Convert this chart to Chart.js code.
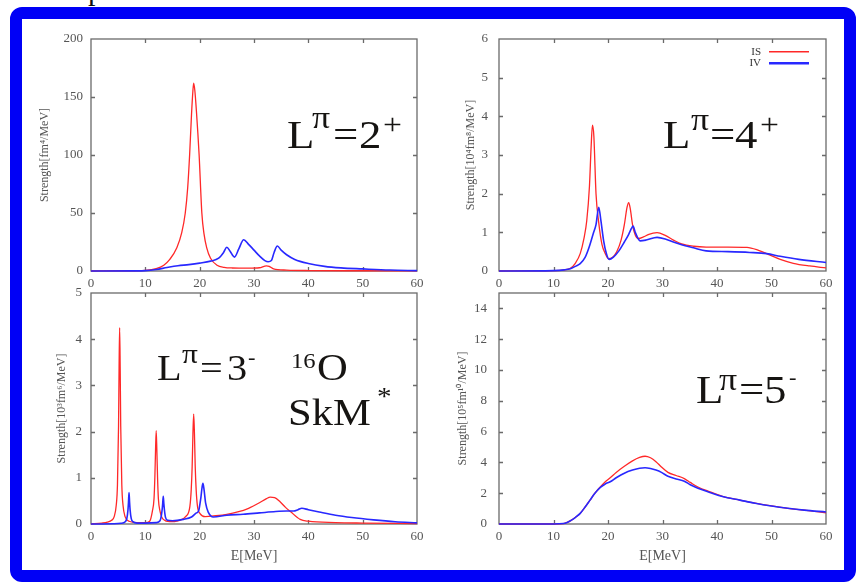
<!DOCTYPE html>
<html>
<head>
<meta charset="utf-8">
<script src="https://cdn.jsdelivr.net/npm/chart.js@4/dist/chart.umd.min.js"></script>
<style>
  html, body { margin: 0; padding: 0; background: #fff; }
  body { width: 856px; height: 584px; position: relative; overflow: hidden; }
  #frame {
    position: absolute; left: 10px; top: 7px; width: 846px; height: 575px;
    box-sizing: border-box; border: 12px solid #0000f6; border-radius: 12px; background: #fff;
  }
  #cut { position: absolute; left: 88px; top: 0; width: 20px; height: 8px; overflow: hidden; }
  #cut span { position: absolute; left: 0; top: -27px; font: 30px "Liberation Serif", serif; line-height: 34px; color: #111; }
  canvas { position: absolute; }
</style>
</head>
<body>
<div id="cut"><span>p</span></div>
<div id="frame"></div>
<canvas id="quad2" width="399" height="262" style="left:30px;top:29px"></canvas>
<canvas id="hex4" width="400" height="262" style="left:438px;top:29px"></canvas>
<canvas id="oct3" width="399" height="286" style="left:30px;top:283px"></canvas>
<canvas id="dec5" width="400" height="286" style="left:438px;top:283px"></canvas>
<script>
// ---- strength functions of 16O (SkM*), energies in MeV ----

// L = 2+  [fm^4/MeV]
const e2IS = [0, 6, 10, 12, 13.4, 14.5, 15.8, 16.7, 17.35, 17.8, 18.15, 18.5, 18.75, 18.9, 19.1, 19.4, 19.9, 20.4, 20.8, 21.3, 22, 23.2, 24.5, 26, 29, 31, 32.3, 32.8, 33.6, 36, 40, 50, 60];
const s2IS = [0, 0.2, 0.6, 2, 5, 10, 20, 33, 50, 72, 100, 135, 155, 162, 156, 138, 100, 50, 32, 20, 11, 5, 3.2, 2.6, 2.4, 2.8, 4.5, 4, 1.8, 0.8, 0.4, 0.2, 0.1];
const e2IV = [0, 8, 10, 12, 14, 16, 18, 20, 22, 23.5, 24.4, 25, 25.6, 26.4, 27.2, 28.1, 29, 30, 31, 32, 32.6, 33.2, 33.7, 34.3, 35, 36, 37.5, 40, 43, 46, 50, 55, 60];
const s2IV = [0, 0.1, 0.3, 1.3, 3, 4.5, 5.5, 6.8, 8.5, 11, 16, 20.5, 17, 12, 19, 27, 23, 18, 13, 9, 8, 9, 16, 21.5, 18, 14, 10, 6.5, 4, 2.7, 1.8, 0.8, 0.3];

// L = 4+  [10^4 fm^8/MeV]
const e4IS = [0, 8, 10, 12, 13.1, 14, 14.9, 15.6, 16.1, 16.6, 16.9, 17.15, 17.4, 17.8, 18.3, 18.9, 19.5, 20.1, 20.8, 21.6, 22.4, 23, 23.5, 23.8, 24.1, 24.5, 25, 25.6, 26.5, 27.5, 29, 30.5, 32, 33.5, 35.7, 38, 42, 45.5, 47.5, 49.1, 51.6, 54, 57, 60];
const s4IS = [0, 0.005, 0.01, 0.03, 0.07, 0.2, 0.45, 0.85, 1.3, 2.2, 3.2, 3.77, 3.5, 2.0, 1.25, 0.68, 0.45, 0.32, 0.35, 0.5, 0.8, 1.2, 1.65, 1.77, 1.6, 1.2, 0.93, 0.84, 0.88, 0.95, 0.99, 0.92, 0.8, 0.7, 0.64, 0.62, 0.62, 0.61, 0.54, 0.45, 0.3, 0.2, 0.13, 0.08];
const e4IV = [0, 10, 12, 13.1, 14, 14.9, 15.8, 16.5, 17.3, 17.8, 18.3, 18.7, 19.2, 19.7, 20.2, 21, 22, 23, 23.8, 24.3, 24.6, 25, 25.9, 27, 29, 30.5, 32, 33.5, 35.7, 38, 42, 46, 49.1, 51.6, 55, 60];
const s4IV = [0, 0.01, 0.03, 0.06, 0.12, 0.19, 0.35, 0.6, 0.97, 1.2, 1.65, 1.3, 0.78, 0.45, 0.3, 0.36, 0.52, 0.75, 0.95, 1.1, 1.16, 1.0, 0.78, 0.8, 0.87, 0.83, 0.75, 0.68, 0.6, 0.52, 0.5, 0.48, 0.45, 0.38, 0.3, 0.22];

// L = 3-  [10^3 fm^6/MeV]
const e3IS = [0, 2, 3, 3.8, 4.27, 4.64, 4.87, 5.07, 5.17, 5.27, 5.37, 5.47, 5.67, 5.9, 6.27, 7, 8.5, 10, 10.8, 11.3, 11.6, 11.75, 11.88, 12.0, 12.12, 12.25, 12.4, 12.7, 13.3, 14.5, 16, 17.5, 18.2, 18.45, 18.62, 18.76, 18.9, 19.04, 19.18, 19.35, 19.6, 20.1, 21, 23, 25, 27, 29, 31, 32.3, 33, 33.8, 34.8, 35.8, 36.7, 38.5, 40, 45, 50, 60];
const s3IS = [0, 0.02, 0.04, 0.08, 0.16, 0.4, 0.85, 2.12, 3.4, 4.25, 3.4, 2.12, 0.85, 0.4, 0.16, 0.06, 0.03, 0.03, 0.06, 0.28, 0.55, 1.0, 1.6, 2.02, 1.6, 1.0, 0.55, 0.28, 0.1, 0.05, 0.07, 0.17, 0.38, 0.75, 1.25, 1.95, 2.38, 1.95, 1.25, 0.75, 0.38, 0.22, 0.16, 0.18, 0.21, 0.26, 0.34, 0.46, 0.55, 0.58, 0.57, 0.48, 0.36, 0.27, 0.1, 0.06, 0.03, 0.02, 0.01];
const e3IV = [0, 4, 5.5, 6.3, 6.6, 6.8, 6.9, 7.0, 7.1, 7.2, 7.4, 7.7, 8.5, 10, 12, 12.7, 12.95, 13.1, 13.2, 13.3, 13.4, 13.5, 13.7, 14.1, 15, 17, 18.5, 19.4, 19.8, 20.2, 20.45, 20.6, 20.8, 21.1, 21.6, 22.5, 25, 28, 31, 34, 36, 37.3, 38.1, 38.8, 40, 42, 45, 48, 52, 56, 60];
const s3IV = [0, 0.005, 0.015, 0.05, 0.12, 0.3, 0.47, 0.68, 0.47, 0.3, 0.12, 0.05, 0.02, 0.02, 0.03, 0.07, 0.18, 0.32, 0.45, 0.6, 0.45, 0.32, 0.15, 0.08, 0.07, 0.1, 0.15, 0.24, 0.28, 0.55, 0.8, 0.88, 0.75, 0.45, 0.25, 0.15, 0.19, 0.21, 0.24, 0.27, 0.28, 0.28, 0.31, 0.34, 0.31, 0.26, 0.19, 0.14, 0.09, 0.05, 0.025];

// L = 5-  [10^5 fm^10/MeV]
const e5 = [0, 10, 11.8, 12.5, 13.3, 14.1, 14.9, 15.8, 16.7, 17.6, 18.6, 19.5, 20.4, 21.5, 23, 24.5, 25.8, 26.8, 27.8, 28.8, 29.8, 31, 32.5, 34, 35.1, 36.5, 38.7, 41, 44.2, 47, 50, 53, 56, 60];
const s5IS = [0, 0, 0.03, 0.1, 0.25, 0.45, 0.69, 1.1, 1.55, 2.0, 2.41, 2.75, 3.0, 3.35, 3.75, 4.1, 4.32, 4.4, 4.3, 4.05, 3.7, 3.35, 3.15, 2.95, 2.7, 2.4, 2.09, 1.8, 1.55, 1.35, 1.17, 1.02, 0.9, 0.72];
const s5IV = [0, 0, 0.03, 0.1, 0.25, 0.45, 0.69, 1.1, 1.55, 2.0, 2.38, 2.6, 2.74, 3.0, 3.3, 3.5, 3.62, 3.65, 3.6, 3.5, 3.35, 3.1, 2.92, 2.78, 2.55, 2.32, 2.05, 1.78, 1.55, 1.35, 1.17, 1.02, 0.9, 0.78];

const energyTicks = [0, 10, 20, 30, 40, 50, 60];

const SERIF = '"Liberation Serif", "Times New Roman", serif';
const RED = 'rgb(255,40,40)';
const BLUE = 'rgb(40,40,255)';

Chart.defaults.font.family = SERIF;

const pairUp = (xs, ys) => xs.map((x, i) => ({ x, y: ys[i] }));

// box around the plot area with inward tick marks on all four sides
const frameTicks = {
  id: 'frameTicks',
  beforeDatasetsDraw(chart) {
    const { ctx, chartArea: a, scales: { x, y } } = chart;
    ctx.save();
    ctx.strokeStyle = '#6a6a6a';
    ctx.lineWidth = 1.3;
    ctx.strokeRect(a.left, a.top, a.width, a.height);
    const len = 4;
    ctx.beginPath();
    x.ticks.forEach(t => {
      const px = Math.round(x.getPixelForValue(t.value)) + 0.5;
      if (px <= a.left + 1 || px >= a.right - 1) return;
      ctx.moveTo(px, a.bottom); ctx.lineTo(px, a.bottom - len);
      ctx.moveTo(px, a.top); ctx.lineTo(px, a.top + len);
    });
    y.ticks.forEach(t => {
      const py = Math.round(y.getPixelForValue(t.value)) + 0.5;
      if (py <= a.top + 1 || py >= a.bottom - 1) return;
      ctx.moveTo(a.left, py); ctx.lineTo(a.left + len, py);
      ctx.moveTo(a.right, py); ctx.lineTo(a.right - len, py);
    });
    ctx.stroke();
    ctx.restore();
  }
};

// multipolarity label drawn piece by piece (superscripts raised)
const bigLabel = {
  id: 'bigLabel',
  afterDatasetsDraw(chart, args, opts) {
    const pieces = opts.pieces;
    if (!pieces) return;
    const { ctx, chartArea: a } = chart;
    ctx.save();
    ctx.fillStyle = '#161412';
    ctx.textBaseline = 'alphabetic';
    ctx.textAlign = 'left';
    for (const p of pieces) {
      ctx.font = p.s + 'px ' + SERIF;
      ctx.save();
      ctx.translate(a.left + opts.x + p.dx, a.top + opts.y + p.dy);
      ctx.scale(1.12, 1);
      ctx.fillText(p.t, 0, 0);
      ctx.restore();
    }
    ctx.restore();
  }
};

// small key: label text right-aligned, sample line to its right
const keyLegend = {
  id: 'keyLegend',
  afterDatasetsDraw(chart, args, opts) {
    if (!opts.show) return;
    const { ctx, chartArea: a } = chart;
    ctx.save();
    chart.data.datasets.forEach((ds, i) => {
      const yy = a.top + 12.7 + i * 11.6;
      ctx.font = '11px ' + SERIF;
      ctx.fillStyle = '#333';
      ctx.textAlign = 'right';
      ctx.textBaseline = 'middle';
      ctx.fillText(ds.label, a.right - 65, yy);
      ctx.strokeStyle = ds.borderColor;
      ctx.lineWidth = i ? 2.6 : 1.5;
      ctx.beginPath();
      ctx.moveTo(a.right - 57, yy);
      ctx.lineTo(a.right - 17, yy);
      ctx.stroke();
    });
    ctx.restore();
  }
};

Chart.register(frameTicks, bigLabel, keyLegend);

function panel(id, cfg) {
  const bottomRow = cfg.xTitle;
  new Chart(document.getElementById(id), {
    type: 'line',
    data: {
      datasets: [
        { label: 'IS', data: pairUp(cfg.isE, cfg.isS), borderColor: RED, borderWidth: 1.3, order: 1 },
        { label: 'IV', data: pairUp(cfg.ivE, cfg.ivS), borderColor: BLUE, borderWidth: 1.6, order: 0 }
      ].map(d => Object.assign(d, { pointRadius: 0, cubicInterpolationMode: 'monotone', fill: false, clip: 3 }))
    },
    options: {
      responsive: false,
      animation: false,
      devicePixelRatio: 1,
      layout: { padding: { left: 0, right: 12, top: 10, bottom: 0 } },
      plugins: {
        legend: { display: false },
        tooltip: { enabled: false },
        bigLabel: cfg.label,
        keyLegend: { show: !!cfg.key }
      },
      scales: {
        x: {
          type: 'linear', min: 0, max: 60,
          afterBuildTicks: s => { s.ticks = energyTicks.map(v => ({ value: v })); },
          grid: { display: false, drawTicks: false },
          border: { display: false },
          ticks: { color: '#555', font: { size: 13 }, padding: 5, maxRotation: 0, autoSkip: false },
          title: bottomRow
            ? { display: true, text: cfg.xTitle, color: '#555', font: { size: 14 }, padding: { top: 0, bottom: 4 } }
            : { display: false },
          afterFit: s => { s.height = bottomRow ? 45 : 20; s.paddingLeft = 0; s.paddingRight = 0; }
        },
        y: {
          type: 'linear', min: 0, max: cfg.yMax,
          grid: { display: false, drawTicks: false },
          border: { display: false },
          ticks: { stepSize: cfg.yStep, includeBounds: false, color: '#555', font: { size: 13 }, padding: cfg.yPad, autoSkip: false },
          title: { display: true, text: cfg.yTitle, color: '#555', font: { size: 12 }, padding: { top: cfg.titlePad, bottom: 0 } },
          afterFit: s => { s.width = 61; s.paddingTop = 0; s.paddingBottom = 0; }
        }
      }
    }
  });
}

panel('quad2', {
  isE: e2IS, isS: s2IS, ivE: e2IV, ivS: s2IV,
  yMax: 200, yStep: 50, yPad: 8, titlePad: 8,
  yTitle: 'Strength[fm⁴/MeV]',
  label: { x: 196, y: 109, pieces: [
    { t: 'L', dx: 0, dy: 0, s: 40 }, { t: 'π', dx: 25, dy: -20, s: 32 },
    { t: '=', dx: 46, dy: 0, s: 40 }, { t: '2', dx: 72, dy: 0, s: 40 }, { t: '+', dx: 96, dy: -14, s: 30 } ] }
});

panel('hex4', {
  isE: e4IS, isS: s4IS, ivE: e4IV, ivS: s4IV,
  yMax: 6, yStep: 1, yPad: 11, titlePad: 26, key: true,
  yTitle: 'Strength[10⁴fm⁸/MeV]',
  label: { x: 164, y: 109, pieces: [
    { t: 'L', dx: 0, dy: 0, s: 40 }, { t: 'π', dx: 28, dy: -18, s: 32 },
    { t: '=', dx: 47, dy: 0, s: 40 }, { t: '4', dx: 72, dy: 0, s: 40 }, { t: '+', dx: 97, dy: -14, s: 30 } ] }
});

panel('oct3', {
  isE: e3IS, isS: s3IS, ivE: e3IV, ivS: s3IV,
  yMax: 5, yStep: 1, yPad: 9, titlePad: 25, xTitle: 'E[MeV]',
  yTitle: 'Strength[10³fm⁶/MeV]',
  label: { x: 66, y: 87, pieces: [
    { t: 'L', dx: 0, dy: 0, s: 36 }, { t: 'π', dx: 25, dy: -17, s: 28 },
    { t: '=', dx: 43, dy: 0, s: 36 }, { t: '3', dx: 70, dy: 0, s: 36 }, { t: '-', dx: 91, dy: -16, s: 20 },
    { t: '16', dx: 134, dy: -12, s: 22 }, { t: 'O', dx: 160, dy: 0, s: 38 },
    { t: 'SkM', dx: 131, dy: 45, s: 38 }, { t: '*', dx: 220, dy: 25, s: 26 } ] }
});

panel('dec5', {
  isE: e5, isS: s5IS, ivE: e5, ivS: s5IV,
  yMax: 15, yStep: 2, yPad: 12, titlePad: 18, xTitle: 'E[MeV]',
  yTitle: 'Strength[10⁵fm¹⁰/MeV]',
  label: { x: 197, y: 110, pieces: [
    { t: 'L', dx: 0, dy: 0, s: 40 }, { t: 'π', dx: 23, dy: -13, s: 32 },
    { t: '=', dx: 43, dy: 0, s: 40 }, { t: '5', dx: 68, dy: 0, s: 40 }, { t: '-', dx: 93, dy: -19, s: 20 } ] }
});
</script>
</body>
</html>
